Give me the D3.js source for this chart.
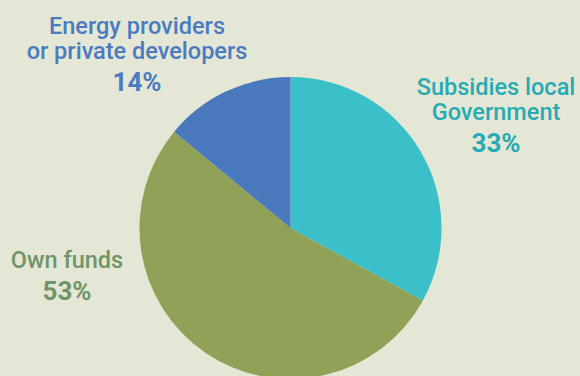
<!DOCTYPE html>
<html>
<head>
<meta charset="utf-8">
<script src="https://cdn.jsdelivr.net/npm/d3@7"></script>
<style>
  html, body { margin: 0; padding: 0; background: #e4e7d5; }
  svg { display: block; font-family: Roboto, "Noto Sans", sans-serif; }
</style>
</head>
<body>
<svg id="chart" width="580" height="376"></svg>
<script>
// Funding sources, clockwise from 12 o'clock
const categories = ["Subsidies local Government", "Own funds", "Energy providers or private developers"];
const values = [33, 53, 14];
const labelLines = [["Subsidies local", "Government"], ["Own funds"], ["Energy providers", "or private developers"]];
const sliceColors = ["#3bbfc8", "#8fa257", "#4a78bc"];
const textColors = ["#27abb3", "#6f9568", "#4b7bc0"];

const W = 580, H = 376;
const cx = 290.5, cy = 228, R = 151;

const svg = d3.select("#chart");
svg.append("rect").attr("width", W).attr("height", H).attr("fill", "#e4e7d5");

const data = categories.map((c, i) => ({ name: c, value: values[i], i }));
const pie = d3.pie().value(d => d.value).sort(null);
const arc = d3.arc().innerRadius(0).outerRadius(R);

const g = svg.append("g").attr("transform", `translate(${cx},${cy})`);
g.selectAll("path")
  .data(pie(data))
  .join("path")
  .attr("d", arc)
  .attr("fill", d => sliceColors[d.data.i]);

// Label anchor positions (center x, first baseline y)
const labelPos = [
  { x: 496, y: 95 },
  { x: 67, y: 268 },
  { x: 137, y: 34 }
];
const lineH = 25;

data.forEach((d, i) => {
  const p = labelPos[i];
  const t = svg.append("text")
    .attr("text-anchor", "middle")
    .attr("fill", textColors[i]);
  labelLines[i].forEach((ln, k) => {
    t.append("tspan")
      .attr("x", p.x)
      .attr("y", p.y + k * lineH)
      .attr("font-size", 23.5)
      .attr("font-weight", 500)
      .text(ln);
  });
  svg.append("text")
    .attr("text-anchor", "middle")
    .attr("fill", textColors[i])
    .attr("x", p.x)
    .attr("y", p.y + (labelLines[i].length - 1) * lineH + 32)
    .attr("font-size", 26)
    .attr("font-weight", 700)
    .text(d.value + "%");
});
</script>
</body>
</html>
